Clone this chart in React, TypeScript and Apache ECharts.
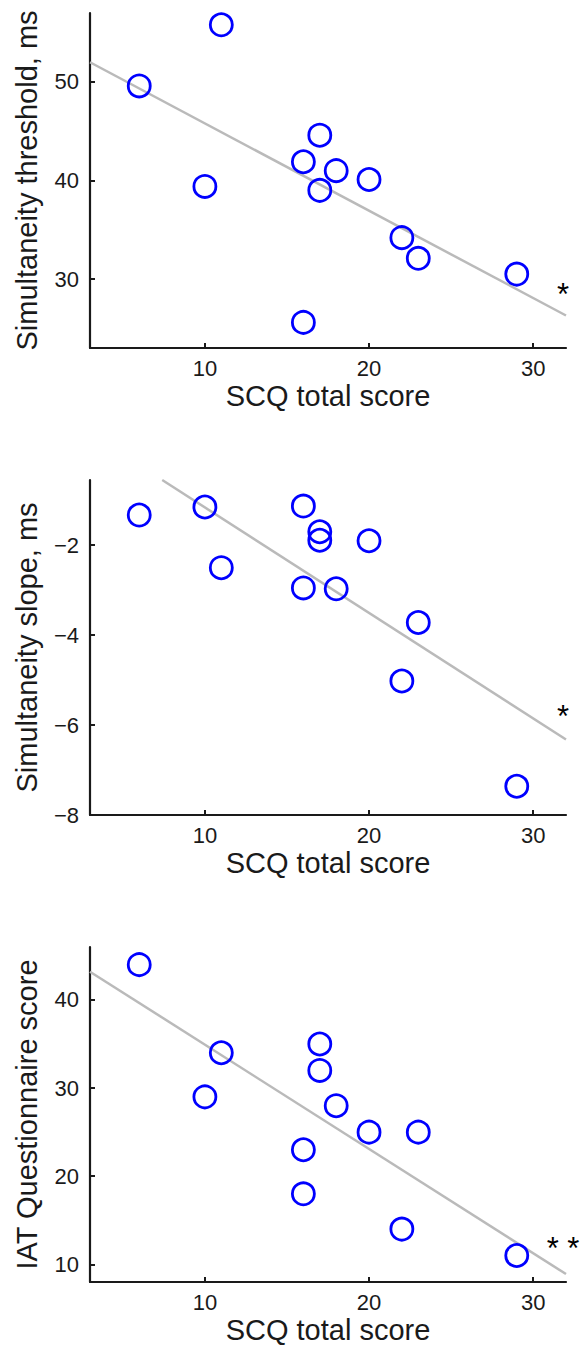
import React, { useEffect, useRef } from "react";
import * as echarts from "echarts";

const scq = [6, 10, 11, 16, 16, 17, 17, 18, 20, 22, 23, 29];
const threshold = [49.6, 39.4, 55.8, 41.9, 25.6, 44.6, 39.0, 41.0, 40.1, 34.2, 32.1, 30.5];
const slope = [-1.33, -1.15, -2.5, -1.13, -2.95, -1.7, -1.89, -2.97, -1.9, -5.02, -3.72, -7.36];
const iat = [44, 29, 34, 23, 18, 35, 32, 28, 25, 14, 25, 11];

const fit1 = [[3, 52.0], [32, 26.3]];
const fit2 = [[7.4, -0.55], [32, -6.32]];
const fit3 = [[3, 43.2], [32, 8.9]];

const xTicks = [10, 20, 30];
const yTicks1 = [30, 40, 50];
const yTicks2 = [-8, -6, -4, -2];
const yTicks3 = [10, 20, 30, 40];

const yNames = ["Simultaneity threshold, ms", "Simultaneity slope, ms", "IAT Questionnaire score"];
const xName = "SCQ total score";
const stars = ["*", "*", "* *"];

const FONT = "'Liberation Sans', Arial, Helvetica, sans-serif";
const INK = "#1a1a1a";

export default function App() {
  const ref = useRef<HTMLDivElement>(null);
  useEffect(() => {
    if (!ref.current) return;
    const chart = echarts.init(ref.current, undefined, { renderer: "svg" });
    const tops = [13, 480, 947];
    const yRanges = [
      [23, 57],
      [-8, -0.55],
      [8, 46],
    ];
    const yTickSets = [yTicks1, yTicks2, yTicks3];
    const ys = [threshold, slope, iat];
    const fits = [fit1, fit2, fit3];
    const fmt = (v: number) => (v < 0 ? "\u2212" + Math.abs(v) : String(v));

    const grid = tops.map((t) => ({ left: 90, right: 17, top: t, height: 335 }));
    const xAxis = tops.map((_, i) => ({
      type: "value",
      gridIndex: i,
      min: 3,
      max: 32,
      name: xName,
      nameLocation: "middle",
      nameGap: 33,
      nameTextStyle: { fontSize: 29, color: INK, fontFamily: FONT },
      axisLine: { show: true, onZero: false, lineStyle: { color: INK, width: 2.2 } },
      axisTick: { show: true, inside: true, length: 5, customValues: xTicks, lineStyle: { color: INK, width: 2 } },
      axisLabel: { customValues: xTicks, fontSize: 22, color: INK, fontFamily: FONT, margin: 9 },
      splitLine: { show: false },
    }));
    const yAxis = tops.map((_, i) => ({
      type: "value",
      gridIndex: i,
      min: yRanges[i][0],
      max: yRanges[i][1],
      name: yNames[i],
      nameLocation: "middle",
      nameGap: 49,
      nameTextStyle: { fontSize: 29, color: INK, fontFamily: FONT },
      axisLine: { show: true, onZero: false, lineStyle: { color: INK, width: 2.2 } },
      axisTick: { show: true, inside: true, length: 5, customValues: yTickSets[i], lineStyle: { color: INK, width: 2 } },
      axisLabel: { customValues: yTickSets[i], formatter: fmt, fontSize: 22, color: INK, fontFamily: FONT, margin: 11 },
      splitLine: { show: false },
    }));
    const series: any[] = [];
    tops.forEach((_, i) => {
      series.push({
        type: "line",
        xAxisIndex: i,
        yAxisIndex: i,
        data: fits[i],
        symbol: "none",
        lineStyle: { color: "#bababa", width: 2.5 },
        z: 1,
        silent: true,
      });
      series.push({
        type: "scatter",
        xAxisIndex: i,
        yAxisIndex: i,
        data: scq.map((x, k) => [x, ys[i][k]]),
        symbol: "circle",
        symbolSize: 22,
        itemStyle: { color: "rgba(0,0,0,0)", borderColor: "#0000ff", borderWidth: 2.8, opacity: 1 },
        z: 2,
      });
    });
    const starY = [294, 716, 1248];
    const graphic = stars.map((s, i) => ({
      type: "text",
      x: 563,
      y: starY[i],
      style: { text: s, fontSize: 31, fill: "#000", fontFamily: FONT, align: "center", verticalAlign: "middle" },
    }));
    chart.setOption({ animation: false, backgroundColor: "#fff", grid, xAxis, yAxis, series, graphic });
    return () => chart.dispose();
  }, []);
  return <div ref={ref} style={{ position: "absolute", left: 0, top: 0, width: 583, height: 1351 }} />;
}
